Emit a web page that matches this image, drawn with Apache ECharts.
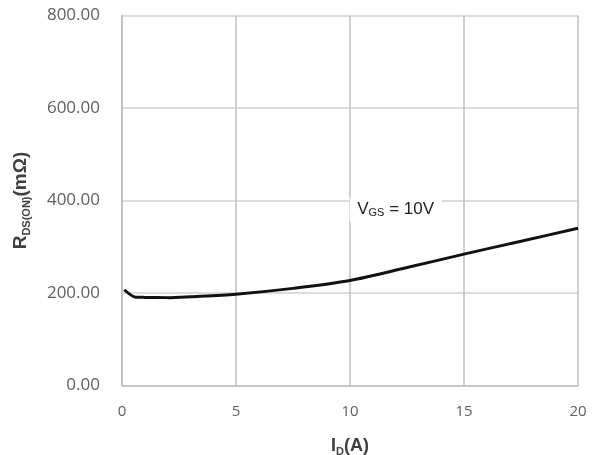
<!DOCTYPE html>
<html>
<head>
<meta charset="utf-8">
<script src="https://cdn.jsdelivr.net/npm/echarts@6/dist/echarts.min.js"></script>
<style>html,body{margin:0;padding:0;background:#fff}#c{width:596px;height:455px}</style>
</head>
<body>
<div id="c"></div>
<script>
const currentA = [0.1, 0.6, 1, 2, 3, 5, 7.5, 10, 12.5, 15, 17.5, 20];
const rdsOn = [207, 191, 190.5, 190, 192, 197.5, 210, 227, 255, 284, 312, 340];
const xTicks = [0, 5, 10, 15, 20];
const yTicks = [0, 200, 400, 600, 800];
const annotation = { x: 12.0, y: 380, text: 'V{s|GS} = 10V' };

const chart = echarts.init(document.getElementById('c'));
chart.setOption({
  animation: false,
  backgroundColor: '#fff',
  grid: { left: 122, right: 18, top: 15.5, bottom: 69.5, show: false, containLabel: false, outerBoundsMode: 'none' },
  xAxis: {
    type: 'value', min: xTicks[0], max: xTicks[xTicks.length-1], interval: 5,
    name: '{m|I}{s|D}{m|(A)}', nameLocation: 'middle', nameGap: 50,
    nameTextStyle: { rich: {
      m: { fontFamily: 'Liberation Sans', fontWeight: 'bold', fontSize: 18, color: '#404040', lineHeight: 22 },
      s: { fontFamily: 'Liberation Sans', fontWeight: 'bold', fontSize: 11, color: '#404040', verticalAlign: 'bottom', lineHeight: 18 }
    }},
    axisLine: { show: true, lineStyle: { color: '#bfbfbf', width: 1.5 } },
    axisTick: { show: false },
    axisLabel: { color: '#606060', fontFamily: 'Open Sans', fontSize: 15, margin: 19 },
    splitLine: { show: true, lineStyle: { color: '#bfbfbf', width: 1.5 } }
  },
  yAxis: {
    type: 'value', min: yTicks[0], max: yTicks[yTicks.length-1], interval: 200,
    name: '{m|R}{s|DS(ON)}{m|(mΩ)}', nameLocation: 'middle', nameGap: 90, nameRotate: 90,
    nameTextStyle: { rich: {
      m: { fontFamily: 'Liberation Sans', fontWeight: 'bold', fontSize: 19, color: '#404040', lineHeight: 23 },
      s: { fontFamily: 'Liberation Sans', fontWeight: 'bold', fontSize: 11, color: '#404040', verticalAlign: 'bottom', lineHeight: 19 }
    }},
    axisLine: { show: true, lineStyle: { color: '#bfbfbf', width: 1.5 } },
    axisTick: { show: false },
    axisLabel: { color: '#606060', fontFamily: 'Open Sans', fontSize: 17, margin: 22,
      formatter: v => v.toFixed(2) },
    splitLine: { show: true, lineStyle: { color: '#d0d0d0', width: 1.5 } }
  },
  series: [{
    type: 'line',
    data: currentA.map((x, i) => [x, rdsOn[i]]),
    smooth: 0.3,
    showSymbol: false,
    lineStyle: { color: '#111', width: 3 },
    markPoint: {
      symbol: 'rect', symbolSize: [92, 24],
      itemStyle: { color: '#fff' },
      data: [{ coord: [annotation.x, annotation.y] }],
      label: { show: true, position: 'inside', formatter: annotation.text,
        color: '#222', fontFamily: 'Liberation Sans', fontSize: 17,
        rich: { s: { fontFamily: 'Liberation Sans', fontSize: 11, color: '#222', verticalAlign: 'bottom', lineHeight: 18 } } }
    }
  }]
});
</script>
</body>
</html>
